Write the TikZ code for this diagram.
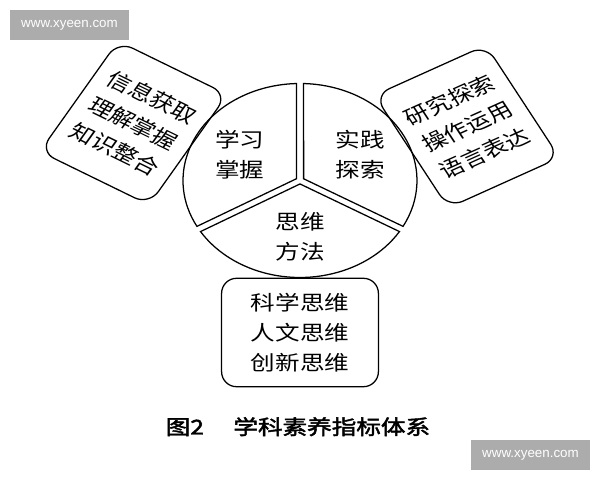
\documentclass[tikz,border=0pt]{standalone}
\usepackage{fontspec}
\newfontfamily\cjk{Noto Sans CJK SC}
\newfontfamily\cjkb[FakeBold=2]{Noto Sans CJK SC}
\newfontfamily\wmfont{Liberation Sans}
\begin{document}
\begin{tikzpicture}[x=0.025cm, y=0.025cm,
  outline/.style={draw=black, line width=0.9pt, line join=miter},
  secttext/.style={font=\cjk\fontsize{14.5pt}{21.5pt}\selectfont, align=center, inner sep=0pt},
  tagbox/.style={draw=black, line width=0.9pt, rounded corners=0.4cm, font=\cjk\fontsize{14.5pt}{21.5pt}\selectfont, align=center, inner sep=0pt, minimum width=2.625cm, minimum height=3.2cm},
  captext/.style={font=\cjkb\fontsize{14.5pt}{18pt}\selectfont, inner sep=0pt},
  wmbox/.style={fill=gray!65, draw=none, text=white, font=\wmfont\fontsize{9.5pt}{11pt}\selectfont, minimum width=2.975cm, minimum height=0.75cm, inner sep=0pt}]
\useasboundingbox (0,0) rectangle (600,480);

% watermarks
\node[wmbox] (wmtop) at (69.5,455) {www.xyeen.com};
\node[wmbox] (wmbot) at (530.5,25) {www.xyeen.com};

\begin{scope}[shift={(300,299.5)}, xscale=1.206, every node/.append style={transform shape}]
  % three sectors with gaps
  \draw[outline] (150:3.464) -- (208.23:97) arc[start angle=208.23, end angle=91.77, radius=97] -- cycle;
  \draw[outline] (30:3.464) -- (88.23:97) arc[start angle=88.23, end angle=-28.23, radius=97] -- cycle;
  \draw[outline] (270:3.464) -- (-31.77:97) arc[start angle=-31.77, end angle=-148.23, radius=97] -- cycle;

  \node[secttext] (learn) at (-50,25.5) {学习\\掌握};
  \node[secttext] (practice) at (50,25.5) {实践\\探索};
  \node[secttext] (method) at (0,-56) {思维\\方法};

  \node[tagbox, rotate=-30.5] (info) at (-138,57.5) {信息获取\\理解掌握\\知识整合};
  \node[tagbox, rotate=28.5] (research) at (138.5,54) {研究探索\\操作运用\\语言表达};
  \node[tagbox, rounded corners=0.375cm, minimum width=3.25cm, minimum height=2.71cm] (think) at (0,-152) {科学思维\\人文思维\\创新思维};

  \node[captext] (cap) at (-1.7,-246.2) {图2\hspace{1.2em}学科素养指标体系};
\end{scope}
\end{tikzpicture}
\end{document}
